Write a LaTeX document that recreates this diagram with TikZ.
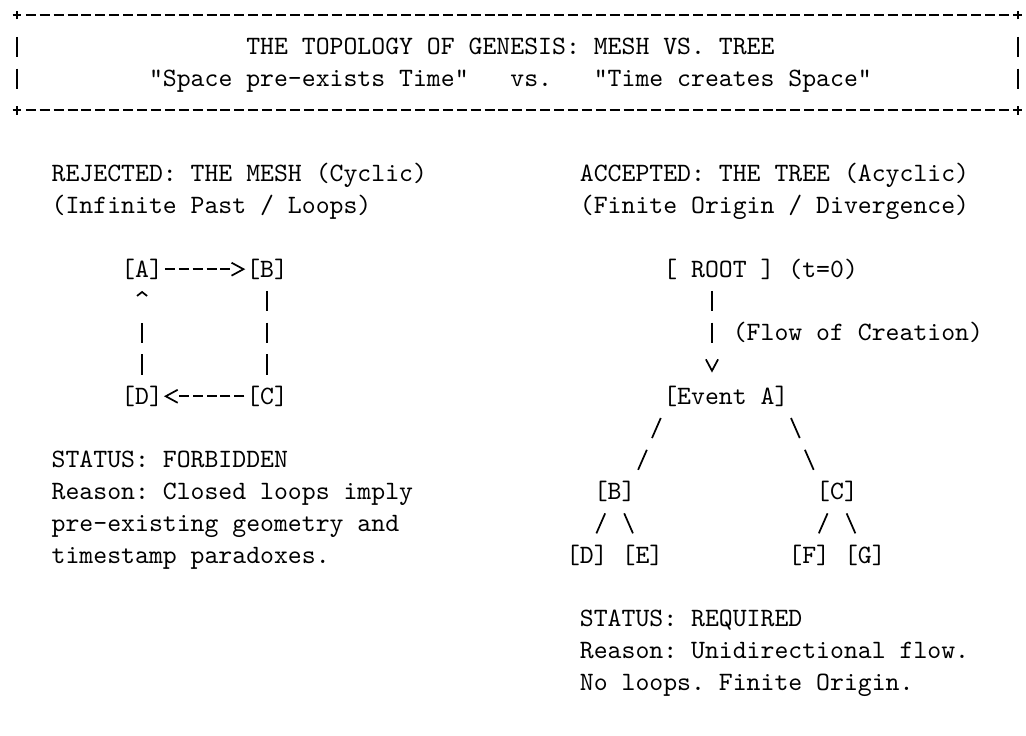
\documentclass[tikz,border=0pt]{standalone}
\usepackage{fontspec}
\setmonofont{lmmono10-regular.otf}
\usetikzlibrary{arrows.meta}
\tikzset{
    txt/.style = {inner sep=0pt, outer sep=0pt, font=\ttfamily,
        text height=9.05pt, text depth=2.95pt},
    box/.style = {txt, anchor=center},
    ascii/.style = {line width=0.65pt, black},
    dashline/.style = {ascii, dash pattern=on 3.78pt off 1.47pt, dash phase=4.515pt},
    pipeline/.style = {ascii, dash pattern=on 7.56pt off 4.44pt, dash phase=9.78pt},
    slashline/.style = {ascii, dash pattern=on 8.25pt off 4.85pt, dash phase=10.68pt},
    harrow/.style = {ascii, dash pattern=on 3.78pt off 1.47pt on 3.78pt off 1.47pt on 3.78pt off 1.47pt on 3.78pt off 1.47pt on 3.78pt off 20pt,
        dash phase=44.045pt, -{Straight Barb[length=4.5pt,width=4.9pt]}, shorten >=0.4pt},
    varrow/.style = {ascii, dash pattern=on 7.56pt off 4.44pt on 7.56pt off 30pt, dash phase=47.34pt}
}

\begin{document}
\frenchspacing
\begin{tikzpicture}[x=5.25pt, y=-12pt]
    \path [use as bounding box, fill=white] (-0.719,-0.472) rectangle (73.09,22.673);
    % title frame
    \node [txt, anchor=west] (title) at (17,1) {THE TOPOLOGY OF GENESIS: MESH VS. TREE};
    \node [txt, anchor=west] (subtitle) at (10,2) {"Space pre-exists Time"\ \ \ vs.\ \ \ "Time creates Space"};
    \draw [dashline] (1,0) -- (72,0) (1,3) -- (72,3);
    \draw [pipeline] (0.5,0.5) -- (0.5,2.5) (72.5,0.5) -- (72.5,2.5);
    \foreach \p in {(0.5,0),(72.5,0),(0.5,3),(72.5,3)}
        \draw [ascii] \p ++(-1.65pt,0) -- ++(3.3pt,0) \p ++(0,-1.65pt) -- ++(0,3.3pt);

    % the mesh
    \node [txt, anchor=west] (rej) at (3,5) {REJECTED: THE MESH (Cyclic)};
    \node [txt, anchor=west] (rejsub) at (3,6) {(Infinite Past / Loops)};
    \node [box] (a) at (9.5,8) {[A]};
    \node [box, right of=a, node distance=47.25pt] (b) {[B]};
    \node [box, below of=b, node distance=48pt] (c) {[C]};
    \node [box, left of=c, node distance=47.25pt] (d) {[D]};
    \draw [harrow] (a) -- (b);
    \draw [pipeline] (b) -- (c);
    \draw [harrow] (c) -- (d);
    \draw [varrow, -{Straight Barb[length=1.5pt,width=3.8pt]}, shorten >=2.2pt] (d) -- (a);
    \node [txt, anchor=west] (forbid) at (3,14) {STATUS: FORBIDDEN};
    \node [txt, anchor=west] (why1) at (3,15) {Reason: Closed loops imply};
    \node [txt, anchor=west] (why2) at (3,16) {pre-existing geometry and};
    \node [txt, anchor=west] (why3) at (3,17) {timestamp paradoxes.};

    % the tree
    \node [txt, anchor=west] (acc) at (41,5) {ACCEPTED: THE TREE (Acyclic)};
    \node [txt, anchor=west] (accsub) at (41,6) {(Finite Origin / Divergence)};
    \node [box] (root) at (51,8) {[ ROOT ]};
    \node [txt, anchor=west] (tzero) at (56,8) {(t=0)};
    \node [box] (eva) at (51.5,12) {[Event A]};
    \draw [varrow, -{Straight Barb[length=4.3pt,width=4.6pt]}, shorten >=2.95pt] ([xshift=18.375pt]root.south west)
        -- node [txt, anchor=west, xshift=7.875pt] (flow) {(Flow of Creation)} ([xshift=18.375pt]eva.north west);
    \node [box] (tb) at (43.5,15) {[B]};
    \node [box, right of=tb, node distance=84pt] (tc) {[C]};
    \node [box] (td) at (41.5,17) {[D]};
    \node [box, right of=td, node distance=21pt] (te) {[E]};
    \node [box] (tf) at (57.5,17) {[F]};
    \node [box, right of=tf, node distance=21pt] (tg) {[G]};
    \draw [slashline] (eva.south west) -- (tb.north east);
    \draw [slashline] (eva.south east) -- (tc.north west);
    \draw [slashline] ([xshift=-2.625pt]tb.south) -- ([xshift=2.625pt]td.north);
    \draw [slashline] ([xshift=2.625pt]tb.south) -- ([xshift=-2.625pt]te.north);
    \draw [slashline] ([xshift=-2.625pt]tc.south) -- ([xshift=2.625pt]tf.north);
    \draw [slashline] ([xshift=2.625pt]tc.south) -- ([xshift=-2.625pt]tg.north);
    \node [txt, anchor=west] (req) at (41,19) {STATUS: REQUIRED};
    \node [txt, anchor=west] (why4) at (41,20) {Reason: Unidirectional flow.};
    \node [txt, anchor=west] (why5) at (41,21) {No loops. Finite Origin.};
\end{tikzpicture}
\end{document}
